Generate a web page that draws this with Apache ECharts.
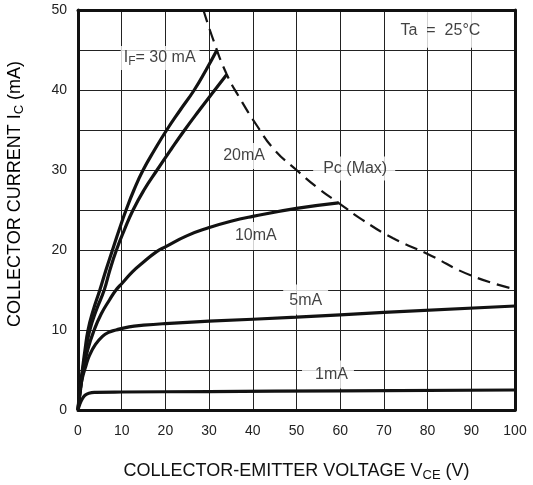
<!DOCTYPE html>
<html>
<head>
<meta charset="utf-8">
<script src="https://cdn.jsdelivr.net/npm/echarts@6/dist/echarts.min.js"></script>
<style>
  html, body { margin: 0; padding: 0; background: #fff; }
  #chart { width: 533px; height: 485px; }
</style>
</head>
<body>
<div id="chart"></div>
<script>
const FONT = '"Liberation Sans", Arial, Helvetica, sans-serif';

// Output characteristics, points are [V_CE (V), I_C (mA)]
const curveIF30 = [[0,0],[0.4,2.5],[1.0,5],[1.6,7.5],[2.3,10],[3.5,12.5],[5.0,15],[6.4,17.5],[7.9,20],[9.4,22.5],[11.0,25],[12.8,27.5],[14.9,30],[17.5,32.5],[20.3,35],[23.4,37.5],[26.6,40],[29.3,42.5],[31.8,45]];
const curveIF20 = [[0,0],[0.5,2.5],[1.1,5],[1.8,7.5],[2.7,10],[4.2,12.5],[6.0,15],[7.3,17.5],[8.8,20],[10.6,22.5],[12.6,25],[15.1,27.5],[18.1,30],[21.2,32.5],[24.4,35],[27.8,37.5],[31.3,40],[34.0,41.9]];
const curveIF10 = [[0,0],[0.5,2.2],[1.2,5],[2.2,7.5],[3.7,10],[5.3,12],[7.2,13.75],[8.7,15],[10.2,15.9],[12.5,17.3],[14.8,18.4],[18,19.8],[20,20.4],[25,21.8],[30,22.8],[35,23.6],[40,24.2],[50,25.2],[59.6,25.9]];
const curveIF5  = [[0,0],[0.5,2.5],[1.0,4],[1.8,5.5],[2.6,6.8],[4,8.2],[5.6,9.2],[7,9.7],[8.7,10.0],[11.7,10.4],[15,10.6],[20,10.8],[30,11.1],[50,11.6],[70,12.2],[100,13.0]];
const curveIF1  = [[0,0],[0.4,0.7],[1.0,1.4],[1.6,1.85],[2.5,2.1],[4,2.2],[10,2.25],[30,2.3],[60,2.4],[100,2.5]];
// Maximum collector power dissipation boundary
const pcMax = [[28.7,50],[31,46.2],[34,42],[37,39],[41,35.5],[45,32.5],[50,30],[55,27.7],[59.6,25.9],[65,23.8],[72,21.5],[80,19.5],[90,16.8],[100,15.1]];

// Annotation texts
const labelTexts = ['{n|I}{s|F}{n|= 30 mA}', '20mA', '10mA', '5mA', '1mA', 'Pc (Max)', 'Ta  =  25°C'];
const xTitle = '{n|COLLECTOR-EMITTER VOLTAGE V}{s|CE}{n| (V)}';
const yTitle = '{n|COLLECTOR CURRENT I}{s|C}{n| (mA)}';

const richSub = (size, sub, drop) => ({
  n: { fontSize: size, fontFamily: FONT, color: '#111' },
  s: { fontSize: sub, fontFamily: FONT, color: '#111', padding: [drop, 0, 0, 0] }
});

function curve(data) {
  return {
    type: 'line', data, showSymbol: false, smooth: 0.5,
    z: 3, silent: true,
    lineStyle: { color: '#121212', width: 3.2 }
  };
}

function note(pos, text, padding) {
  return {
    value: pos,
    label: {
      show: true, position: 'inside', formatter: text,
      fontSize: 16, fontFamily: FONT, color: '#111',
      backgroundColor: '#fff', padding,
      rich: richSub(16, 12, 8)
    }
  };
}

const chart = echarts.init(document.getElementById('chart'));
chart.setOption({
  animation: false,
  backgroundColor: '#fff',
  grid: { left: 78, top: 10, right: 18, bottom: 75, containLabel: false, outerBoundsMode: 'none' },
  xAxis: [{
    type: 'value', min: 0, max: 100, interval: 10, z: 0,
    axisLine: { show: true, onZero: false, lineStyle: { color: '#111', width: 3 } },
    axisTick: { show: false },
    axisLabel: { fontSize: 14, color: '#222', fontFamily: FONT, margin: 14 },
    splitLine: { show: true, lineStyle: { color: '#222', width: 1 } },
    name: xTitle, nameLocation: 'middle', nameGap: 50,
    nameTextStyle: { rich: richSub(18, 13, 9) }
  }, {
    type: 'value', position: 'top', min: 0, max: 100, z: 10,
    axisLine: { show: true, onZero: false, lineStyle: { color: '#111', width: 3 } },
    axisTick: { show: false }, axisLabel: { show: false }, splitLine: { show: false }
  }],
  yAxis: [{
    type: 'value', min: 0, max: 50, interval: 5, z: 0,
    axisLine: { show: true, onZero: false, lineStyle: { color: '#111', width: 3 } },
    axisTick: { show: false },
    axisLabel: {
      fontSize: 14, color: '#222', fontFamily: FONT, margin: 11,
      formatter: v => (v % 10 === 0 ? String(v) : '')
    },
    splitLine: { show: true, lineStyle: { color: '#222', width: 1 } }
  }, {
    type: 'value', position: 'right', min: 0, max: 50, z: 10,
    axisLine: { show: true, onZero: false, lineStyle: { color: '#111', width: 3 } },
    axisTick: { show: false }, axisLabel: { show: false }, splitLine: { show: false }
  }],
  graphic: [{
    type: 'text', x: 15, y: 194, rotation: Math.PI / 2,
    style: { text: yTitle, align: 'center', verticalAlign: 'middle', rich: richSub(18, 13, 9) }
  }],
  series: [
    {
      type: 'scatter', symbolSize: 0, z: 1, silent: true,
      data: [
        note([18.8, 44.0], labelTexts[0], [2, 4, 2, 3]),
        note([38.0, 31.75], labelTexts[1], [5, 5, 5, 5]),
        note([40.7, 21.75], labelTexts[2], [6, 5, 6, 5]),
        note([52.1, 13.8], labelTexts[3], [8, 6, 6, 6]),
        note([57.2, 4.44], labelTexts[4], [6, 6, 6, 13]),
        note([63.2, 30.2], labelTexts[5], [4, 8, 4, 10]),
        note([85.0, 47.6], labelTexts[6], [12, 30, 9, 12])
      ]
    },
    curve(curveIF30),
    curve(curveIF20),
    curve(curveIF10),
    curve(curveIF5),
    curve(curveIF1),
    {
      type: 'line', data: pcMax, showSymbol: false, smooth: 0.5,
      z: 3, silent: true,
      lineStyle: { color: '#141414', width: 2.2, type: [13, 7] }
    }
  ]
});
</script>
</body>
</html>
